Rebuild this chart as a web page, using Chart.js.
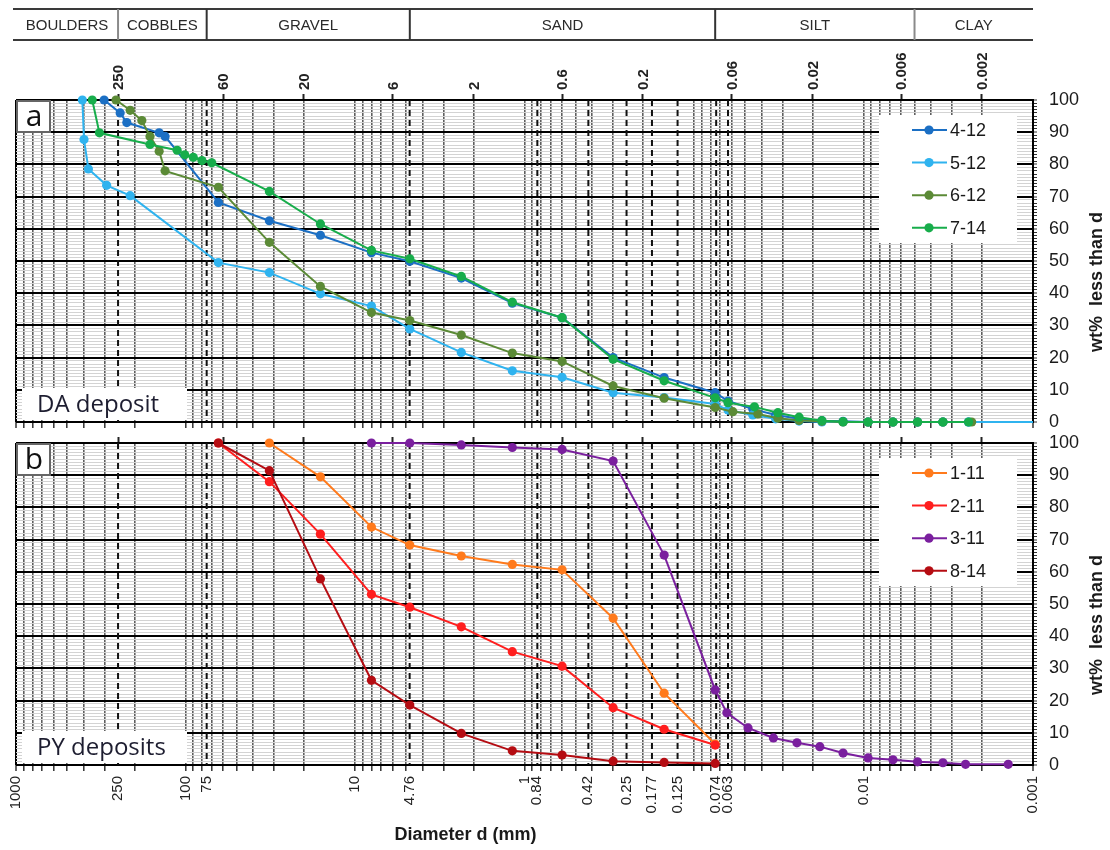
<!DOCTYPE html>
<html>
<head>
<meta charset="utf-8">
<script src="https://cdn.jsdelivr.net/npm/chart.js@4.4.1/dist/chart.umd.min.js"></script>
<style>
  html, body { margin: 0; padding: 0; background: #fff; }
  #wrap { position: relative; width: 1110px; height: 850px; }
  canvas { position: absolute; left: 0; }
  #chart-a { top: 0; }
  #chart-b { top: 430px; }
</style>
</head>
<body>
<div id="wrap">
  <canvas id="chart-a" width="1110" height="430"></canvas>
  <canvas id="chart-b" width="1110" height="420"></canvas>
</div>
<script>
const X_MIN = 0.001;
const X_MAX = 1000;

// soil classes along the top band (limits in mm)
const soilClasses = ["BOULDERS", "COBBLES", "GRAVEL", "SAND", "SILT", "CLAY"];
const classBounds = [1000, 250, 75, 4.75, 0.075, 0.005, 0.001];

const topTickLabels = ["250", "60", "20", "6", "2", "0.6", "0.2", "0.06", "0.02", "0.006", "0.002"];
const bottomTickLabels = ["1000", "250", "100", "75", "10", "4.76", "1", "0.84", "0.42", "0.25",
  "0.177", "0.125", "0.074", "0.063", "0.01", "0.001"];
const sieveSizes = [250, 75, 4.76, 0.84, 0.42, 0.25, 0.177, 0.125, 0.074, 0.063];
const yLabels = [0, 10, 20, 30, 40, 50, 60, 70, 80, 90, 100];

// panel a: DA deposit
const d412 = [302, 243, 222, 143, 132, 64, 32, 16, 8, 4.75, 2.36, 1.18, 0.6, 0.3, 0.15, 0.075,
  0.063, 0.045, 0.033, 0.024, 0.0176, 0.0132, 0.0094, 0.0067, 0.0048, 0.0034, 0.0024];
const w412 = [100, 96, 93, 89.8, 88.7, 68.2, 62.5, 58, 52.6, 49.9, 44.7, 36.9, 32.4, 20, 13.8, 9.1,
  6.5, 4, 2.2, 1, 0.4, 0.2, 0, 0, 0, 0, 0];

const d512 = [406, 397, 374, 292, 212, 64, 32, 16, 8, 4.75, 2.36, 1.18, 0.6, 0.3, 0.15, 0.075,
  0.063, 0.045, 0.033, 0.024, 0.0176, 0.0132, 0.0094, 0.0067, 0.0048, 0.0034, 0.0024, 0.001];
const w512 = [100, 87.7, 78.6, 73.5, 70.3, 49.5, 46.4, 39.8, 36, 28.9, 21.6, 15.9, 13.9, 9.1, 7.6, 5.6,
  3.7, 2.2, 1, 0.3, 0, 0, 0, 0, 0, 0, 0, 0];

const d612 = [257, 212, 181, 162, 143, 132, 64, 32, 16, 8, 4.75, 2.36, 1.18, 0.6, 0.3, 0.15, 0.075,
  0.059, 0.042, 0.032, 0.024, 0.0176, 0.0132, 0.0094, 0.0067, 0.0048, 0.0034, 0.0023];
const w612 = [100, 96.8, 93.6, 88.7, 84.1, 78, 72.9, 55.8, 42.1, 34, 31.5, 27, 21.4, 18.8, 11.2, 7.4, 4.5,
  3.2, 2.5, 1.2, 0.5, 0.2, 0, 0, 0, 0, 0, 0];

const d714 = [355, 322, 162, 112, 101, 90, 80, 70, 32, 16, 8, 4.75, 2.36, 1.18, 0.6, 0.3, 0.15, 0.075,
  0.063, 0.044, 0.032, 0.024, 0.0176, 0.0132, 0.0094, 0.0067, 0.0048, 0.0034, 0.0024];
const w714 = [100, 89.8, 86.2, 84.4, 83, 82.2, 81.2, 80.5, 71.6, 61.5, 53.3, 50.7, 45.2, 37.2, 32.4, 19.5, 12.8, 7.5,
  6, 4.7, 2.9, 1.5, 0.4, 0.1, 0, 0, 0, 0, 0];

// panel b: PY deposits
const d111 = [32, 16, 8, 4.75, 2.36, 1.18, 0.6, 0.3, 0.15, 0.075];
const w111 = [100, 89.5, 73.9, 68.3, 64.9, 62.3, 60.6, 45.6, 22.3, 6.5];

const d211 = [64, 32, 16, 8, 4.75, 2.36, 1.18, 0.6, 0.3, 0.15, 0.075];
const w211 = [100, 88, 71.7, 53, 49, 42.9, 35.2, 30.7, 17.8, 11.1, 6.2];

const d311 = [8, 4.75, 2.36, 1.18, 0.6, 0.3, 0.15, 0.075, 0.064, 0.048, 0.034, 0.0247, 0.0181,
  0.0132, 0.0094, 0.0067, 0.0048, 0.0034, 0.0025, 0.0014];
const w311 = [100, 100, 99.4, 98.6, 98, 94.4, 65.2, 23.3, 16.2, 11.5, 8.4, 6.9, 5.7,
  3.7, 2.2, 1.6, 1, 0.7, 0.2, 0.2];

const d814 = [64, 32, 16, 8, 4.75, 2.36, 1.18, 0.6, 0.3, 0.15, 0.075];
const w814 = [100, 91.4, 57.8, 26.3, 18.6, 9.8, 4.4, 3.1, 1.2, 0.8, 0.5];

const topTickValues = topTickLabels.map(Number);
const bottomTickValues = bottomTickLabels.map(Number);

// 1..9 x 10^k grid for the log axis
const gridValues = [];
for (let e = -3; e <= 2; e++) {
  for (let m = 1; m <= 9; m++) gridValues.push(Number((m * Math.pow(10, e)).toPrecision(6)));
}
gridValues.push(1000);

const yMinor = [];
for (let v = 0; v <= 100; v++) yMinor.push(v);

const sameVal = (a, b) => Math.abs(Math.log10(a / b)) < 1e-6;
const inList = (v, list) => list.some((u) => sameVal(u, v));
const isEdge = (v) => sameVal(v, X_MIN) || sameVal(v, X_MAX);

Chart.defaults.font.family = "Arial, 'Liberation Sans', sans-serif";
Chart.defaults.color = "#1a1a1a";

function series(label, color, ds, ws, order) {
  return {
    label,
    data: ds.map((d, i) => ({ x: d, y: ws[i] })),
    xAxisID: "x",
    yAxisID: "y",
    borderColor: color,
    backgroundColor: color,
    borderWidth: 2,
    pointRadius: (c) => (c.raw && c.raw.x <= X_MIN ? 0 : 4.6),
    pointBorderWidth: 0,
    pointHoverRadius: 0,
    tension: 0,
    clip: false,
    order,
  };
}

// keep chart.js from shrinking the plot for half-label overhangs
function noOverhang(s) {
  s.paddingTop = 0;
  s.paddingBottom = 0;
  s.paddingLeft = 0;
  s.paddingRight = 0;
}

function yScale() {
  return {
    position: "right",
    min: 0,
    max: 100,
    afterBuildTicks: (s) => { s.ticks = yMinor.map((v) => ({ value: v })); },
    afterFit: (s) => { s.width = 77; noOverhang(s); },
    ticks: {
      autoSkip: false,
      padding: 12,
      color: "#1a1a1a",
      font: { size: 18 },
      callback: (v) => (yLabels.includes(v) ? String(v) : ""),
    },
    grid: {
      color: (c) => (c.tick.value % 10 === 0 ? "#000" : "#d3d3d3"),
      lineWidth: (c) => (c.tick.value % 10 === 0 ? 2 : 1),
      tickLength: 4,
      tickColor: "#333",
      tickWidth: 1,
    },
    border: { display: true, color: "#000", width: 2 },
  };
}

function topScale(height) {
  return {
    type: "logarithmic",
    position: "top",
    reverse: true,
    min: X_MIN,
    max: X_MAX,
    afterBuildTicks: (s) => { s.ticks = topTickValues.map((v) => ({ value: v })); },
    afterFit: (s) => { s.height = height; noOverhang(s); },
    ticks: { display: false, autoSkip: false },
    grid: { drawOnChartArea: false, tickLength: 6, tickColor: "#222", tickWidth: 2 },
    border: { display: false },
  };
}

const sievePlugin = {
  id: "sieves",
  beforeDatasetsDraw(chart) {
    const { ctx, chartArea: a } = chart;
    const x = chart.scales.x;
    ctx.save();
    ctx.strokeStyle = "#111";
    ctx.lineWidth = 2;
    ctx.setLineDash([6, 4]);
    for (const d of sieveSizes) {
      const px = x.getPixelForValue(d);
      ctx.beginPath();
      ctx.moveTo(px, a.top);
      ctx.lineTo(px, a.bottom);
      ctx.stroke();
    }
    ctx.restore();
  },
};

function decorPlugin(letter, caption) {
  return {
    id: "decor",
    afterDatasetsDraw(chart) {
      const { ctx, chartArea: a } = chart;
      ctx.save();
      // panel letter
      ctx.fillStyle = "#fff";
      ctx.fillRect(a.left + 1, a.top + 1, 33, 31);
      ctx.strokeStyle = "#666";
      ctx.lineWidth = 2;
      ctx.strokeRect(a.left + 1, a.top + 1, 33, 31);
      ctx.fillStyle = "#111";
      ctx.font = "30px 'Open Sans'";
      ctx.textAlign = "center";
      ctx.textBaseline = "alphabetic";
      ctx.fillText(letter, a.left + 18, a.top + 26);

      // deposit caption
      ctx.fillStyle = "#fff";
      ctx.fillRect(a.left + 6, a.bottom - 34, 165, 32);
      ctx.fillStyle = "#1d1d30";
      ctx.font = "24px 'Open Sans'";
      ctx.textAlign = "left";
      ctx.fillText(caption, a.left + 21, a.bottom - 10);

      // legend
      const lx = a.right - 154;
      const ly = a.top + 15;
      ctx.fillStyle = "#fff";
      ctx.fillRect(lx, ly, 138, 128);
      chart.data.datasets.forEach((ds, i) => {
        const yy = ly + 15 + i * 32.6;
        ctx.strokeStyle = ds.borderColor;
        ctx.lineWidth = 2;
        ctx.beginPath();
        ctx.moveTo(lx + 33, yy);
        ctx.lineTo(lx + 68, yy);
        ctx.stroke();
        ctx.fillStyle = ds.borderColor;
        ctx.beginPath();
        ctx.arc(lx + 50, yy, 4.6, 0, Math.PI * 2);
        ctx.fill();
        ctx.fillStyle = "#1a1a1a";
        ctx.font = "18px Arial";
        ctx.textBaseline = "middle";
        ctx.fillText(ds.label, lx + 71, yy + 1);
      });

      // y axis title
      ctx.translate(1097, (a.top + a.bottom) / 2 + 21);
      ctx.rotate(-Math.PI / 2);
      ctx.fillStyle = "#1a1a1a";
      ctx.font = "bold 18px Arial";
      ctx.textAlign = "center";
      ctx.textBaseline = "middle";
      ctx.fillText("wt%  less than d", 0, 0);
      ctx.restore();
    },
  };
}

// soil class band and the rotated size labels of the top axis
const bandPlugin = {
  id: "soilBand",
  afterDraw(chart) {
    const { ctx } = chart;
    const x = chart.scales.x;
    const xs = classBounds.map((d) => x.getPixelForValue(d));
    const top = 9, bottom = 40;
    ctx.save();
    ctx.strokeStyle = "#3a3a3a";
    ctx.lineWidth = 2;
    ctx.beginPath();
    ctx.moveTo(xs[0] - 3, top);
    ctx.lineTo(xs[xs.length - 1], top);
    ctx.moveTo(xs[0] - 3, bottom);
    ctx.lineTo(xs[xs.length - 1], bottom);
    ctx.stroke();
    for (let i = 1; i < xs.length - 1; i++) {
      ctx.strokeStyle = i === 1 || i === 5 ? "#8a8a8a" : "#333";
      ctx.beginPath();
      ctx.moveTo(xs[i], top);
      ctx.lineTo(xs[i], bottom);
      ctx.stroke();
    }
    ctx.fillStyle = "#2a2a2a";
    ctx.font = "15px Arial";
    ctx.textAlign = "center";
    ctx.textBaseline = "middle";
    soilClasses.forEach((name, i) => {
      ctx.fillText(name, (xs[i] + xs[i + 1]) / 2, (top + bottom) / 2 + 1);
    });

    const xt = chart.scales.xTop;
    ctx.font = "bold 15px Arial";
    ctx.fillStyle = "#222";
    ctx.textAlign = "left";
    topTickValues.forEach((v, i) => {
      ctx.save();
      ctx.translate(xt.getPixelForValue(v), chart.chartArea.top - 10);
      ctx.rotate(-Math.PI / 2);
      ctx.fillText(topTickLabels[i], 0, 1);
      ctx.restore();
    });
    ctx.restore();
  },
};

const xTitlePlugin = {
  id: "xTitle",
  afterDraw(chart) {
    const { ctx, chartArea: a } = chart;
    ctx.save();
    ctx.fillStyle = "#1a1a1a";
    ctx.font = "bold 18px Arial";
    ctx.textAlign = "center";
    ctx.textBaseline = "middle";
    ctx.fillText("Diameter d (mm)", a.left + (a.right - a.left) * 0.442, a.bottom + 70);
    ctx.restore();
  },
};

const commonOptions = {
  responsive: false,
  animation: false,
  devicePixelRatio: 1,
  events: [],
  layout: { padding: { left: 16, right: 0, top: 0, bottom: 0 } },
  plugins: { legend: { display: false }, tooltip: { enabled: false } },
};

const vGrid = {
  color: (c) => (isEdge(c.tick.value) ? "#000" : "#5e5e5e"),
  lineWidth: (c) => (isEdge(c.tick.value) ? 2 : 1.6),
  tickLength: 6,
  tickColor: "#333",
  tickWidth: 1.5,
};

new Chart(document.getElementById("chart-a"), {
  type: "line",
  data: {
    datasets: [
      series("4-12", "#1b6fc4", d412, w412, 4),
      series("5-12", "#2fb3ef", d512, w512, 3),
      series("6-12", "#5b8a36", d612, w612, 2),
      series("7-14", "#17ad4b", d714, w714, 1),
    ],
  },
  options: {
    ...commonOptions,
    scales: {
      x: {
        type: "logarithmic",
        position: "bottom",
        reverse: true,
        min: X_MIN,
        max: X_MAX,
        afterBuildTicks: (s) => { s.ticks = gridValues.map((v) => ({ value: v })); },
        afterFit: (s) => { s.height = 8; noOverhang(s); },
        ticks: { display: false, autoSkip: false },
        grid: vGrid,
        border: { display: false },
      },
      xTop: topScale(100),
      y: yScale(),
    },
  },
  plugins: [sievePlugin, decorPlugin("a", "DA deposit"), bandPlugin],
});

const bottomTicksB = gridValues
  .concat(bottomTickValues.filter((v) => !inList(v, gridValues)))
  .sort((p, q) => p - q);

new Chart(document.getElementById("chart-b"), {
  type: "line",
  data: {
    datasets: [
      series("1-11", "#ff7a1c", d111, w111, 4),
      series("2-11", "#ff1e1e", d211, w211, 3),
      series("3-11", "#7a1f9e", d311, w311, 2),
      series("8-14", "#b50c12", d814, w814, 1),
    ],
  },
  options: {
    ...commonOptions,
    scales: {
      x: {
        type: "logarithmic",
        position: "bottom",
        reverse: true,
        min: X_MIN,
        max: X_MAX,
        afterBuildTicks: (s) => { s.ticks = bottomTicksB.map((v) => ({ value: v })); },
        afterFit: (s) => { s.height = 85; noOverhang(s); },
        ticks: {
          autoSkip: false,
          minRotation: 90,
          maxRotation: 90,
          padding: 5,
          color: "#222",
          font: { size: 15 },
          callback: (v) => {
            const k = bottomTickValues.findIndex((u) => sameVal(u, v));
            return k < 0 ? "" : bottomTickLabels[k];
          },
        },
        grid: {
          ...vGrid,
          color: (c) => (!inList(c.tick.value, gridValues) ? "rgba(0,0,0,0)" : isEdge(c.tick.value) ? "#000" : "#5e5e5e"),
          tickColor: (c) => (inList(c.tick.value, gridValues) ? "#333" : "rgba(0,0,0,0)"),
        },
        border: { display: false },
      },
      xTop: topScale(13),
      y: yScale(),
    },
  },
  plugins: [sievePlugin, decorPlugin("b", "PY deposits"), xTitlePlugin],
});
</script>
</body>
</html>
